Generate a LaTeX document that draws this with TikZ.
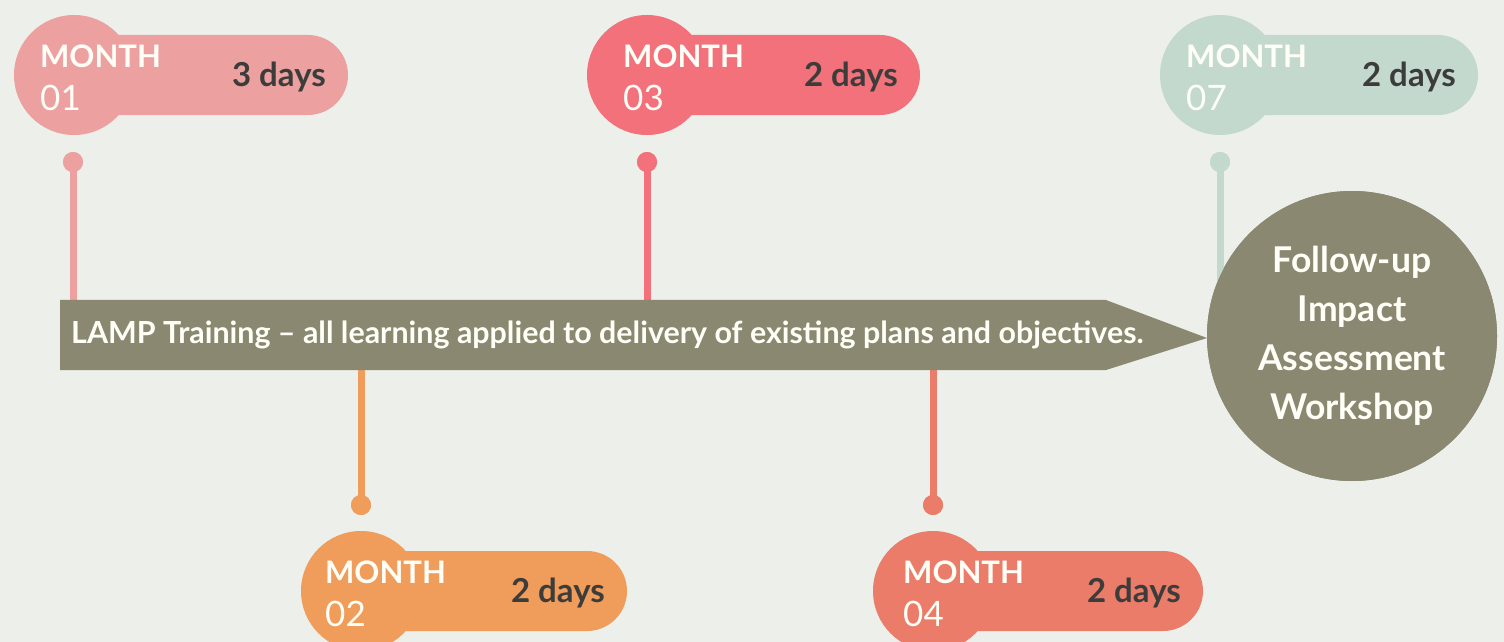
\documentclass[tikz,border=0pt]{standalone}
\usepackage{fontspec}
\setmainfont{Lato}
\definecolor{cA}{HTML}{ECA0A0}
\definecolor{cC}{HTML}{F2717A}
\definecolor{cG}{HTML}{C3D9CE}
\definecolor{cB}{HTML}{F09C5B}
\definecolor{cD}{HTML}{EA7C69}
\definecolor{olive}{HTML}{8A8870}
\definecolor{darktxt}{HTML}{3C3D3A}
\definecolor{whitetxt}{HTML}{FFFFF7}
\definecolor{bgc}{HTML}{EDEFEA}
\tikzset{
  dotnode/.style={circle, fill=#1, minimum size=20pt, inner sep=0pt},
  bignode/.style={circle, fill=#1, minimum size=120pt, inner sep=0pt},
  stem/.style={draw=#1, line width=7pt},
  monthtxt/.style={anchor=base west, text=whitetxt, font=\bfseries\fontsize{31}{36}\selectfont, inner sep=0pt},
  numtxt/.style={anchor=base west, text=whitetxt, font=\fontsize{35}{40}\selectfont, inner sep=0pt},
  daystxt/.style={anchor=base east, text=darktxt, font=\bfseries\fontsize{33}{38}\selectfont, inner sep=0pt},
}
% #1 name, #2 cx, #3 cy, #4 pill right, #5 colour, #6 number, #7 days, #8 MONTH x
\newcommand\mbadge[8]{%
  \node[bignode=#5] (#1c) at ({#2},{#3}) {};
  \fill[#5, rounded corners=40pt] ({#2},{#3-40}) rectangle ({#4},{#3+40});
  \node[monthtxt] (#1m) at ({#8},{#3-8}) {MONTH};
  \node[numtxt] (#1n) at ({#8},{#3+35}) {#6};
  \node[daystxt] (#1t) at ({#4-22},{#3+11}) {#7};
}
\begin{document}
\begin{tikzpicture}[x=1pt,y=-1pt]
\fill[bgc] (0,0) rectangle (1504,642);
\useasboundingbox (0,0) rectangle (1504,642);
% dots
\node[dotnode=cA] (m1d) at (73,162) {};
\node[dotnode=cC] (m3d) at (647,162) {};
\node[dotnode=cG] (m7d) at (1220,162) {};
\node[dotnode=cB] (m2d) at (361,505) {};
\node[dotnode=cD] (m4d) at (933,505) {};
% banner and circle (as anchors for stems)
\node[fill=olive, minimum width=1045pt, minimum height=70pt, inner sep=0pt, anchor=west] (banner) at (60,335) {};
\node[circle, fill=olive, minimum size=290pt, inner sep=0pt] (fu) at (1352,336) {};
% stems
\draw[stem=cA] (m1d.center) -- (m1d |- banner.north);
\draw[stem=cC] (m3d.center) -- (m3d |- banner.north);
\draw[stem=cB] (m2d.center) -- (m2d |- banner.south);
\draw[stem=cD] (m4d.center) -- (m4d |- banner.south);
\draw[stem=cG] (m7d.center) -- (m7d |- fu.center);
\node[dotnode=cA] at (m1d) {};
\node[dotnode=cC] at (m3d) {};
\node[dotnode=cG] at (m7d) {};
\node[dotnode=cB] at (m2d) {};
\node[dotnode=cD] at (m4d) {};
% banner redrawn on top
\fill[olive] (banner.north west) -- (banner.north east) -- (1207,338) -- (banner.south east) -- (banner.south west) -- cycle;
\node[anchor=base west, inner sep=0pt, text=whitetxt, font=\bfseries\fontsize{30.4}{36}\selectfont] (btxt) at (71,343) {LAMP Training – all learning applied to delivery of existing plans and objectives.};
% follow-up circle
\node[circle, fill=olive, minimum size=290pt, inner sep=0pt, text=whitetxt, font=\bfseries\fontsize{35.5}{49}\selectfont, align=center] (fu2) at (fu) {Follow-up\\Impact\\Assessment\\Workshop};
% badges
\mbadge{m1}{74}{75}{348}{cA}{01}{3 days}{40}
\mbadge{m3}{647}{75}{920}{cC}{03}{2 days}{623}
\mbadge{m7}{1220}{75}{1478}{cG}{07}{2 days}{1186}
\mbadge{m2}{361}{591}{627}{cB}{02}{2 days}{325}
\mbadge{m4}{933}{591}{1203}{cD}{04}{2 days}{903}
\end{tikzpicture}
\end{document}
